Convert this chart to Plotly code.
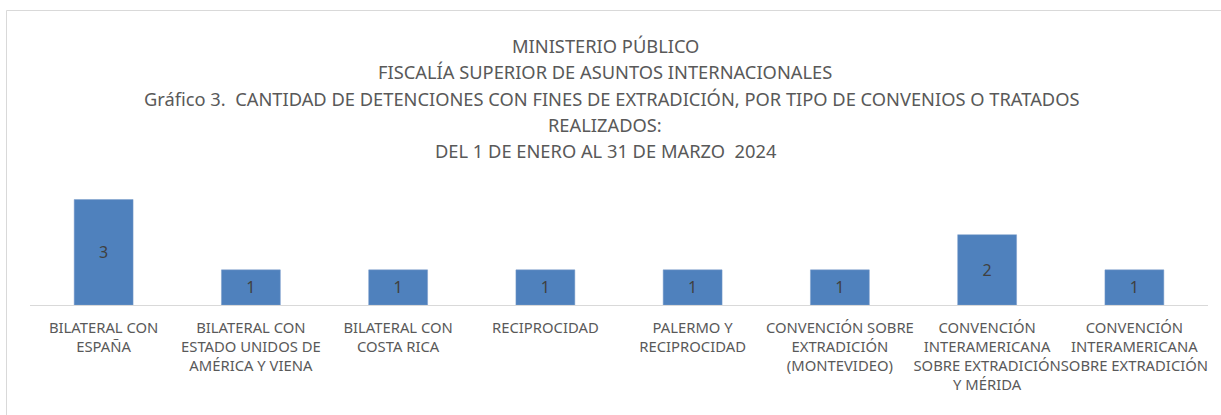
import plotly.graph_objects as go

categories = [
    "BILATERAL CON ESPAÑA",
    "BILATERAL CON ESTADO UNIDOS DE AMÉRICA Y VIENA",
    "BILATERAL CON COSTA RICA",
    "RECIPROCIDAD",
    "PALERMO Y RECIPROCIDAD",
    "CONVENCIÓN SOBRE EXTRADICIÓN (MONTEVIDEO)",
    "CONVENCIÓN INTERAMERICANA SOBRE EXTRADICIÓN Y MÉRIDA",
    "CONVENCIÓN INTERAMERICANA SOBRE EXTRADICIÓN",
]
tick_labels = [
    "BILATERAL CON<br>ESPAÑA",
    "BILATERAL CON<br>ESTADO UNIDOS DE<br>AMÉRICA Y VIENA",
    "BILATERAL CON<br>COSTA RICA",
    "RECIPROCIDAD",
    "PALERMO Y<br>RECIPROCIDAD",
    "CONVENCIÓN SOBRE<br>EXTRADICIÓN<br>(MONTEVIDEO)",
    "CONVENCIÓN<br>INTERAMERICANA<br>SOBRE EXTRADICIÓN<br>Y MÉRIDA",
    "CONVENCIÓN<br>INTERAMERICANA<br>SOBRE EXTRADICIÓN",
]
values = [3, 1, 1, 1, 1, 1, 2, 1]

title_lines = [
    "MINISTERIO PÚBLICO",
    "FISCALÍA SUPERIOR DE ASUNTOS INTERNACIONALES",
    "Gráfico 3.  CANTIDAD DE DETENCIONES CON FINES DE EXTRADICIÓN, POR TIPO DE CONVENIOS O TRATADOS",
    "REALIZADOS:",
    "DEL 1 DE ENERO AL 31 DE MARZO  2024",
]

FONT = "Noto Sans"
W, H = 1221, 415
T, B, L, R = 182, 110, 30, 13
plot_h = H - T - B
plot_w = W - L - R

fig = go.Figure(
    go.Bar(
        x=categories,
        y=values,
        text=values,
        textposition="inside",
        insidetextanchor="middle",
        textfont=dict(family=FONT, size=16, color="#404040"),
        marker=dict(color="#4F81BD", line=dict(color="#7A9CCB", width=0.5)),
        width=0.4,
        hoverinfo="skip",
    )
)

title_px = [45, 71, 98, 124, 150]
title_cx = [605, 605, 611, 605, 606]
for txt, py, cx in zip(title_lines, title_px, title_cx):
    fig.add_annotation(
        text=txt,
        xref="paper", yref="paper",
        x=(cx - L) / plot_w, y=(H - B - py) / plot_h,
        xanchor="center", yanchor="middle",
        showarrow=False,
        font=dict(family=FONT, size=18.3, color="#595959"),
    )

fig.add_shape(
    type="rect", xref="paper", yref="paper",
    x0=(6.5 - L) / plot_w, x1=(W + 20 - L) / plot_w,
    y0=(H - B - (H + 20)) / plot_h, y1=(H - B - 10.5) / plot_h,
    line=dict(color="#D9D9D9", width=1),
    layer="below",
)

fig.update_layout(
    width=W, height=H,
    margin=dict(l=L, r=R, t=T, b=B),
    paper_bgcolor="white",
    plot_bgcolor="white",
    showlegend=False,
    xaxis=dict(
        tickmode="array",
        tickvals=categories,
        ticktext=tick_labels,
        tickfont=dict(family=FONT, size=14.8, color="#595959"),
        ticklabelstandoff=9,
        showline=True,
        linecolor="#D9D9D9",
        linewidth=1,
        showgrid=False,
        ticks="",
        tickangle=0,
        fixedrange=True,
    ),
    yaxis=dict(
        range=[0, 3.5],
        visible=False,
        showgrid=False,
        zeroline=False,
        fixedrange=True,
    ),
)

fig.write_html("out.html")
